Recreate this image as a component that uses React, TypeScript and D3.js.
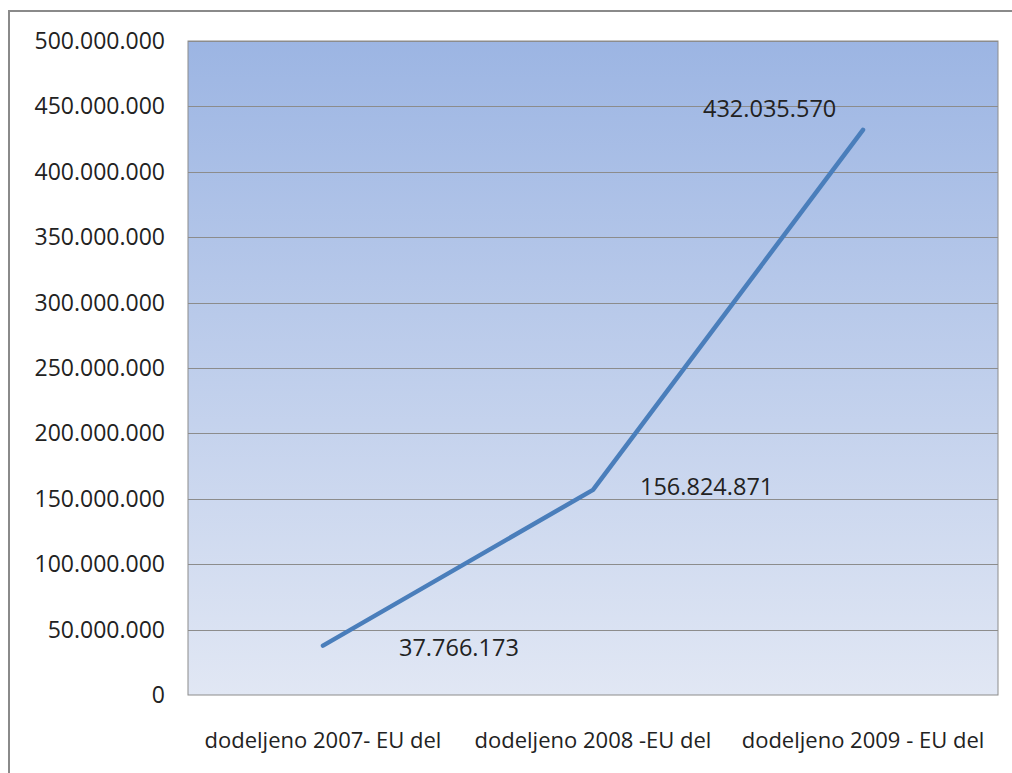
import React, { useRef, useEffect } from "react";
import * as d3 from "d3";

const categories = [
  "dodeljeno 2007- EU del",
  "dodeljeno 2008 -EU del",
  "dodeljeno 2009 - EU del",
];
const values = [37766173, 156824871, 432035570];
const yTicks = [0, 50000000, 100000000, 150000000, 200000000, 250000000, 300000000, 350000000, 400000000, 450000000, 500000000];

const fmt = (v: number) => d3.format(",")(v).replace(/,/g, ".");

export default function App() {
  const svgRef = useRef<SVGSVGElement | null>(null);

  useEffect(() => {
    const width = 1012;
    const height = 773;
    const margin = { top: 41, right: 14, bottom: 78, left: 188 };
    const innerWidth = width - margin.left - margin.right;
    const innerHeight = height - margin.top - margin.bottom;
    const font = "'Open Sans', sans-serif";

    const svg = d3.select(svgRef.current);
    svg.selectAll("*").remove();
    svg.attr("width", width).attr("height", height);

    // gradient for the plot area
    const defs = svg.append("defs");
    const grad = defs
      .append("linearGradient")
      .attr("id", "plotBg")
      .attr("x1", 0)
      .attr("y1", 0)
      .attr("x2", 0)
      .attr("y2", 1);
    grad.append("stop").attr("offset", "0%").attr("stop-color", "#9cb5e3");
    grad.append("stop").attr("offset", "100%").attr("stop-color", "#e1e7f4");

    // outer frame
    svg
      .append("rect")
      .attr("x", 9)
      .attr("y", 11)
      .attr("width", width + 20)
      .attr("height", height + 20)
      .attr("fill", "#fff")
      .attr("stroke", "#8a8a8a")
      .attr("stroke-width", 2);

    const g = svg
      .append("g")
      .attr("transform", `translate(${margin.left},${margin.top})`);

    const x = d3
      .scaleBand()
      .domain(categories)
      .range([0, innerWidth])
      .padding(0);

    const y = d3.scaleLinear().domain([0, 500000000]).range([innerHeight, 0]);

    g.append("rect")
      .attr("width", innerWidth)
      .attr("height", innerHeight)
      .attr("fill", "url(#plotBg)")
      .attr("stroke", "#8c8c8c")
      .attr("stroke-width", 1);

    // grid lines
    g.append("g")
      .selectAll("line")
      .data(yTicks.slice(1))
      .enter()
      .append("line")
      .attr("x1", 0)
      .attr("x2", innerWidth)
      .attr("y1", (d) => Math.round(y(d)) + 0.5)
      .attr("y2", (d) => Math.round(y(d)) + 0.5)
      .attr("stroke", "#8c8c8c")
      .attr("stroke-width", 1);

    // y axis labels
    g.append("g")
      .selectAll("text")
      .data(yTicks)
      .enter()
      .append("text")
      .attr("x", -23)
      .attr("y", (d) => y(d))
      .attr("dy", "0.35em")
      .attr("text-anchor", "end")
      .attr("font-family", font)
      .attr("font-size", "23px")
      .attr("fill", "#222")
      .text((d) => fmt(d));

    // x axis labels
    g.append("g")
      .selectAll("text")
      .data(categories)
      .enter()
      .append("text")
      .attr("x", (d) => (x(d) as number) + x.bandwidth() / 2)
      .attr("y", innerHeight + 53)
      .attr("text-anchor", "middle")
      .attr("font-family", font)
      .attr("font-size", "22px")
      .attr("fill", "#222")
      .text((d) => d);

    const cx = (i: number) => (x(categories[i]) as number) + x.bandwidth() / 2;

    const line = d3
      .line<number>()
      .x((_, i) => cx(i))
      .y((d) => y(d));

    g.append("path")
      .datum(values)
      .attr("fill", "none")
      .attr("stroke", "#4a7ebb")
      .attr("stroke-width", 4.5)
      .attr("stroke-linecap", "round")
      .attr("stroke-linejoin", "round")
      .attr("d", line);

    // data labels (offsets relative to each point)
    const offsets = [
      { dx: 76, dy: 2 },
      { dx: 47, dy: -3 },
      { dx: -160, dy: -21 },
    ];
    g.append("g")
      .selectAll("text")
      .data(values)
      .enter()
      .append("text")
      .attr("x", (_, i) => cx(i) + offsets[i].dx)
      .attr("y", (d, i) => y(d) + offsets[i].dy)
      .attr("dy", "0.35em")
      .attr("font-family", font)
      .attr("font-size", "23.5px")
      .attr("fill", "#222")
      .text((d) => fmt(d));
  }, []);

  return (
    <div style={{ position: "absolute", left: 0, top: 0 }}>
      <svg ref={svgRef} style={{ display: "block" }}></svg>
    </div>
  );
}
